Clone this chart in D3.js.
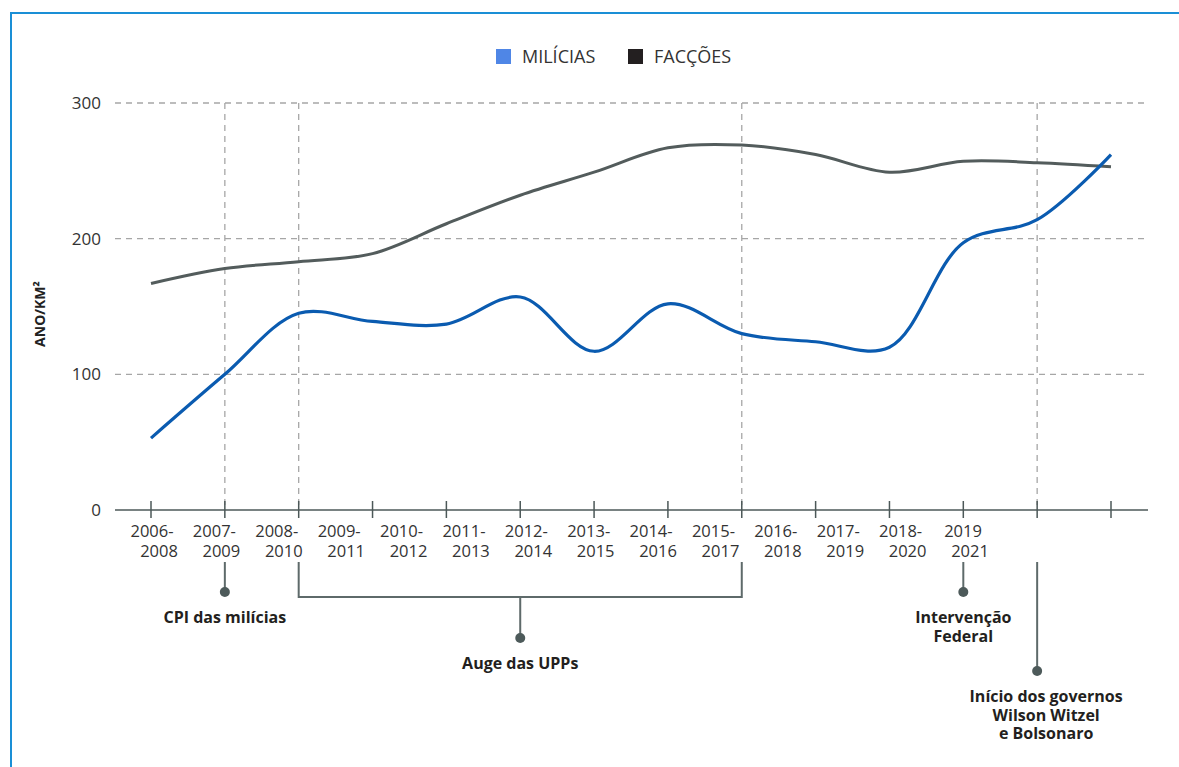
<!DOCTYPE html>
<html>
<head>
<meta charset="utf-8">
<script src="https://cdn.jsdelivr.net/npm/d3@7"></script>
<style>
  body { margin: 0; background: #fff; }
  svg { display: block; font-family: "Open Sans", sans-serif; }
</style>
</head>
<body>
<svg id="chart" width="1179" height="767"></svg>
<script>
// data
const tickLabels = [["2006-", "2008"], ["2007-", "2009"], ["2008-", "2010"], ["2009-", "2011"],
  ["2010-", "2012"], ["2011-", "2013"], ["2012-", "2014"], ["2013-", "2015"], ["2014-", "2016"],
  ["2015-", "2017"], ["2016-", "2018"], ["2017-", "2019"], ["2018-", "2020"], ["2019", "2021"]];
const milicias = [53, 100, 145, 139, 137, 157, 117, 152, 130, 124, 120, 197, 214, 262];
const faccoes = [167, 178, 183, 189, 211, 232, 249, 267, 269, 262, 249, 257, 256, 253];
const yTicks = [0, 100, 200, 300];
const markIdx = [1, 2, 8, 12];
const events = [
  {from: 1, to: 1, label: ["CPI das milícias"]},
  {from: 2, to: 8, label: ["Auge das UPPs"]},
  {from: 11, to: 11, label: ["Intervenção", "Federal"]},
  {from: 12, to: 12, label: ["Início dos governos", "Wilson Witzel", "e Bolsonaro"], far: true}
];

const svg = d3.select("#chart");

// frame
svg.append("path")
    .attr("d", "M11,767 L11,13 L1179,13")
    .attr("fill", "none")
    .attr("stroke", "#1a8fd6")
    .attr("stroke-width", 2);

const x = d3.scalePoint()
    .domain(d3.range(milicias.length))
    .range([151, 1111]);
// labels in the original sit on their own, tighter spacing
const xLabel = d3.scalePoint()
    .domain(d3.range(tickLabels.length))
    .range([152, 963]);
const y = d3.scaleLinear().domain([0, 300]).range([510, 103]);

// gridlines
svg.append("g").selectAll("line")
  .data(yTicks.filter(d => d > 0))
  .enter().append("line")
    .attr("x1", 115).attr("x2", 1148)
    .attr("y1", d => y(d)).attr("y2", d => y(d))
    .attr("stroke", "#a6a6a6")
    .attr("stroke-width", 1.3)
    .attr("stroke-dasharray", "6,5");

// vertical markers
svg.append("g").selectAll("line")
  .data(markIdx)
  .enter().append("line")
    .attr("x1", d => x(d)).attr("x2", d => x(d))
    .attr("y1", y(300)).attr("y2", y(0))
    .attr("stroke", "#a6a6a6")
    .attr("stroke-width", 1.3)
    .attr("stroke-dasharray", "6,5");

// y axis labels
svg.append("g").selectAll("text")
  .data(yTicks)
  .enter().append("text")
    .attr("x", 101)
    .attr("y", d => y(d) + 6)
    .attr("text-anchor", "end")
    .attr("font-size", 17)
    .attr("fill", "#333")
    .text(d => d);

svg.append("text")
    .attr("transform", "translate(45,314) rotate(-90)")
    .attr("text-anchor", "middle")
    .attr("font-size", 14)
    .attr("font-weight", "bold")
    .attr("fill", "#222")
    .text("ANO/KM²");

// x axis
svg.append("line")
    .attr("x1", 115).attr("x2", 1148)
    .attr("y1", y(0)).attr("y2", y(0))
    .attr("stroke", "#4c5858").attr("stroke-width", 1.5);

svg.append("g").selectAll("line")
  .data(x.domain())
  .enter().append("line")
    .attr("x1", d => x(d)).attr("x2", d => x(d))
    .attr("y1", y(0) - 9).attr("y2", y(0) + 8)
    .attr("stroke", "#4c5858").attr("stroke-width", 1.5);

const xl = svg.append("g").selectAll("text")
  .data(tickLabels)
  .enter().append("text")
    .attr("font-size", 16.5)
    .attr("fill", "#333")
    .attr("text-anchor", "middle");
xl.append("tspan").attr("x", (d, i) => xLabel(i)).attr("y", 537).text(d => d[0]);
xl.append("tspan").attr("x", (d, i) => xLabel(i) + 7).attr("y", 557).text(d => d[1]);

// lines
const line = d3.line()
    .x((d, i) => x(i))
    .y(d => y(d))
    .curve(d3.curveCatmullRom.alpha(0.5));

svg.append("path")
    .datum(faccoes)
    .attr("fill", "none")
    .attr("stroke", "#535c5c")
    .attr("stroke-width", 3)
    .attr("d", line);

svg.append("path")
    .datum(milicias)
    .attr("fill", "none")
    .attr("stroke", "#0a5bb0")
    .attr("stroke-width", 3.2)
    .attr("d", line);

// annotations
const ann = svg.append("g");
const lineCol = "#5e6a6a";
events.forEach(ev => {
  let cx, dotY;
  if (ev.from === ev.to) {
    cx = x(ev.from);
    dotY = ev.far ? 671 : 592;
    ann.append("line")
        .attr("x1", cx).attr("x2", cx)
        .attr("y1", y(0) + 52)
        .attr("y2", dotY)
        .attr("stroke", lineCol).attr("stroke-width", 2);
  } else {
    const x1 = x(ev.from), x2 = x(ev.to);
    cx = (x1 + x2) / 2;
    dotY = 638;
    ann.append("path")
        .attr("d", `M${x1},${y(0) + 52} V597 H${x2} V${y(0) + 52} M${cx},597 V${dotY}`)
        .attr("fill", "none")
        .attr("stroke", lineCol).attr("stroke-width", 2);
  }
  ann.append("circle")
      .attr("cx", cx).attr("cy", dotY).attr("r", 5)
      .attr("fill", "#4d5a5a");
  const tx = ev.far ? cx + 9 : cx;
  ann.append("text")
      .attr("text-anchor", "middle")
      .attr("font-size", 16)
      .attr("font-weight", "bold")
      .attr("fill", "#231f20")
    .selectAll("tspan")
    .data(ev.label)
    .enter().append("tspan")
      .attr("x", tx)
      .attr("y", (d, i) => dotY + 31 + i * 18.5)
      .text(d => d);
});

// legend
const legend = [{name: "MILÍCIAS", color: "#4f86e6", x: 496}, {name: "FACÇÕES", color: "#231f20", x: 628}];
const lg = svg.append("g").selectAll("g")
  .data(legend)
  .enter().append("g")
    .attr("transform", d => `translate(${d.x},49)`);
lg.append("rect").attr("width", 15).attr("height", 15).attr("fill", d => d.color);
lg.append("text")
    .attr("x", 26).attr("y", 14)
    .attr("font-size", 18)
    .attr("fill", "#333")
    .text(d => d.name);
</script>
</body>
</html>
